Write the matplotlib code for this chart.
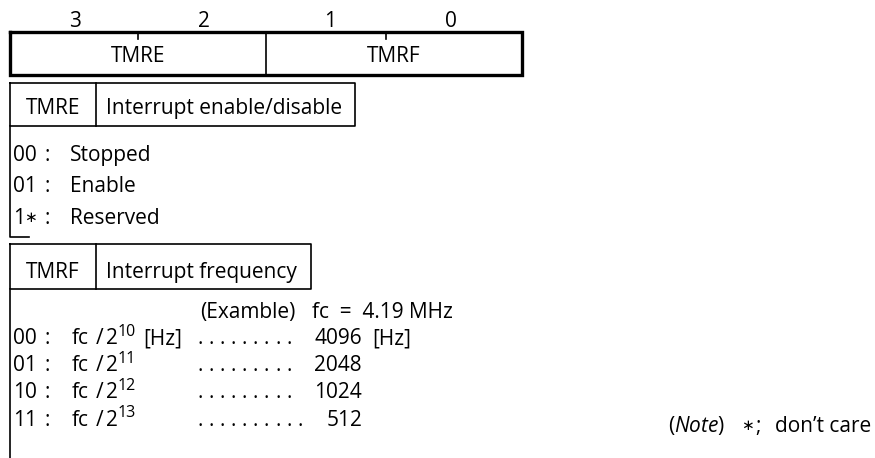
import matplotlib
matplotlib.use("Agg")
import matplotlib.pyplot as plt

# register bits / fields
bit_labels = ['3', '2', '1', '0']
bit_x = [75, 204, 330, 451]
fields = ['TMRE', 'TMRF']

# TMRE table
tmre_title = 'Interrupt enable/disable'
tmre_codes = ['00', '01', '1\u2217']
tmre_desc = ['Stopped', 'Enable', 'Reserved']

# TMRF table
tmrf_title = 'Interrupt frequency'
tmrf_codes = ['00', '01', '10', '11']
tmrf_exp = ['10', '11', '12', '13']
tmrf_hz = [4096, 2048, 1024, 512]
dot_counts = [9, 9, 9, 10]

plt.rcParams['font.family'] = ['Open Sans', 'DejaVu Sans']
plt.rcParams['mathtext.fontset'] = 'custom'
plt.rcParams['mathtext.rm'] = 'Open Sans'
plt.rcParams['mathtext.it'] = 'Open Sans:italic'
plt.rcParams['mathtext.default'] = 'regular'

FS = 15
THICK = 2.4
THIN = 1.2

fig = plt.figure(figsize=(8.75, 4.58), dpi=100)
ax = fig.add_axes([0, 0, 1, 1])
ax.set_xlim(0, 875)
ax.set_ylim(458, 0)
ax.axis('off')


def txt(x, y, s, ha='left', fontsize=FS, **kw):
    ax.text(x, y, s, ha=ha, va='baseline', fontsize=fontsize, color='black', **kw)


def code(x, y, s):
    # small centred asterisk like the original
    if '\u2217' in s:
        txt(x, y, s[0])
        txt(x + 17, y - 2.5, '\u2217', ha='center', fontsize=11)
    else:
        txt(x, y, s)
    txt(x + 34, y, ':', ha='center')


# Register box
L, R, T, B = 10, 522, 32, 75
ax.plot([L, R, R, L, L], [T, T, B, B, T], color='black', lw=THICK, solid_joinstyle='miter')
ax.plot([266, 266], [T, B], color='black', lw=THIN)
for tx in [138, 386]:
    ax.plot([tx, tx], [T, 39], color='black', lw=THIN)
for lab, bx in zip(bit_labels, bit_x):
    txt(bx, 27, lab, ha='center')
txt(138, 62, fields[0], ha='center')
txt(394, 62, fields[1], ha='center')

# TMRE header box
ax.plot([10, 355, 355, 10, 10], [83, 83, 126, 126, 83], color='black', lw=THIN)
ax.plot([96, 96], [83, 126], color='black', lw=THIN)
ax.plot([10, 10, 29], [126, 237, 237], color='black', lw=THIN)
txt(53, 114, fields[0], ha='center')
txt(106, 114, tmre_title)
for i, (c, d) in enumerate(zip(tmre_codes, tmre_desc)):
    y = 161 + i * 31.5
    code(13, y, c)
    txt(70, y, d)

# TMRF header box
ax.plot([10, 311, 311, 10, 10], [244, 244, 289, 289, 244], color='black', lw=THIN)
ax.plot([96, 96], [244, 289], color='black', lw=THIN)
ax.plot([10, 10], [289, 458], color='black', lw=THIN)
txt(53, 278, fields[1], ha='center')
txt(106, 278, tmrf_title)
txt(200, 318, '(Examble)')
txt(312, 318, 'fc  =  4.19 MHz')
for i, (c, e, hz, n) in enumerate(zip(tmrf_codes, tmrf_exp, tmrf_hz, dot_counts)):
    y = 344 + i * 27.2
    code(13, y, c)
    txt(72, y, 'fc')
    txt(100, y, '/', ha='center')
    txt(106, y, '2')
    txt(117.5, y - 8.5, e, fontsize=11.5)
    if i == 0:
        txt(143, y, '[Hz]')
        txt(372, y, '[Hz]')
    for k in range(n):
        txt(200 + k * 11.1, y, '.', ha='center')
    txt(362, y, str(hz), ha='right')

# note
txt(668, 432, r'($\it{Note}$)')
txt(747, 429.5, '\u2217', ha='center', fontsize=11)
txt(758, 432, ';', ha='center')
txt(775, 432, 'don\u2019t care')

fig.savefig('out.png', dpi=100)
